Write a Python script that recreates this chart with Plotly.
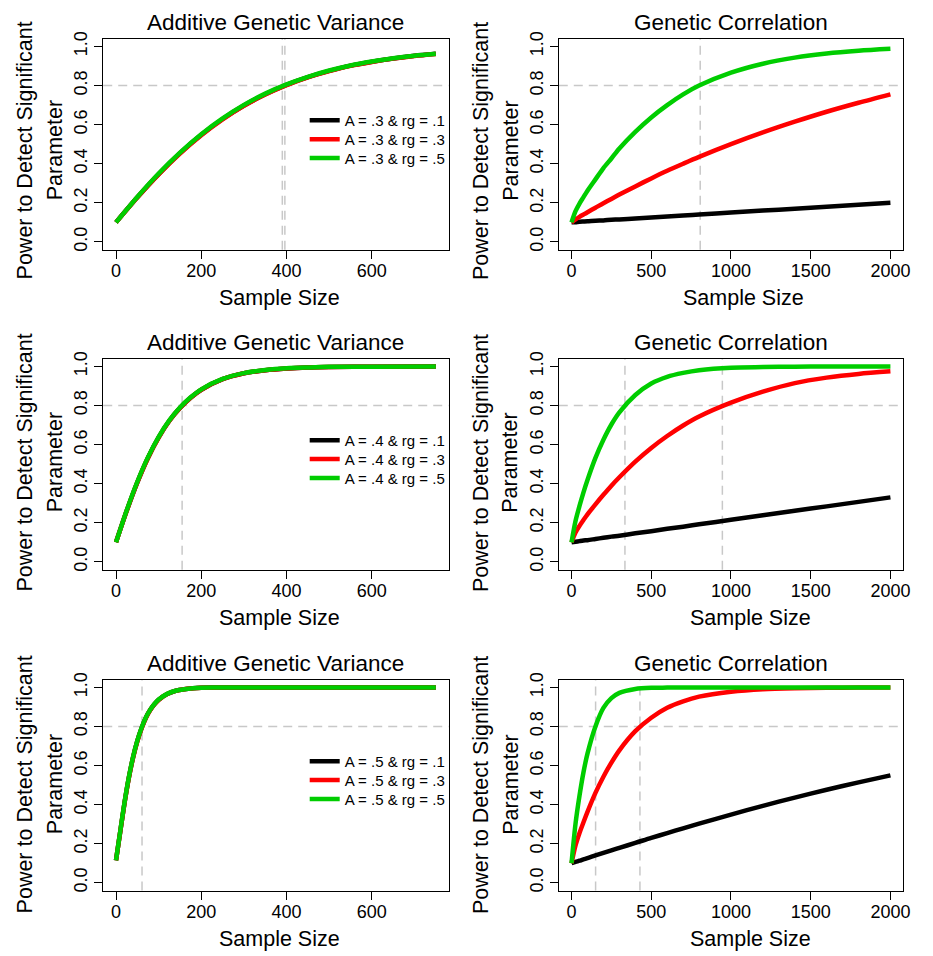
import plotly.graph_objects as go

# ---------------- data ----------------
# Additive genetic variance panels (x: sample size 0..750)
va3_x = [0, 50, 100, 150, 200, 250, 300, 350, 400, 450, 500, 550, 600, 650, 700, 750]
va3_rg1 = [0.100, 0.228, 0.347, 0.454, 0.548, 0.629, 0.698, 0.756, 0.804, 0.843, 0.875, 0.902, 0.922, 0.939, 0.953, 0.963]
va3_rg3 = [0.100, 0.227, 0.345, 0.452, 0.546, 0.627, 0.696, 0.754, 0.802, 0.842, 0.874, 0.901, 0.921, 0.938, 0.952, 0.962]
va3_rg5 = [0.100, 0.230, 0.350, 0.457, 0.551, 0.632, 0.701, 0.759, 0.806, 0.845, 0.877, 0.903, 0.923, 0.940, 0.953, 0.963]

va4_x = [0, 25, 50, 75, 100, 125, 150, 175, 200, 250, 300, 350, 400, 450, 500, 600, 750]
va4_rg1 = [0.100, 0.261, 0.407, 0.533, 0.637, 0.722, 0.788, 0.840, 0.881, 0.935, 0.965, 0.981, 0.990, 0.995, 0.997, 0.999, 1.000]
va4_rg3 = [0.100, 0.260, 0.406, 0.532, 0.636, 0.721, 0.787, 0.840, 0.881, 0.935, 0.965, 0.981, 0.990, 0.995, 0.997, 0.999, 1.000]
va4_rg5 = [0.100, 0.263, 0.410, 0.536, 0.640, 0.724, 0.790, 0.842, 0.883, 0.936, 0.966, 0.982, 0.991, 0.995, 0.998, 0.999, 1.000]

va5_x = [0, 10, 20, 30, 40, 50, 60, 70, 80, 90, 100, 120, 140, 160, 180, 200, 250, 300, 400, 500, 600, 750]
va5_rg1 = [0.115, 0.263, 0.410, 0.537, 0.642, 0.726, 0.792, 0.845, 0.884, 0.914, 0.937, 0.966, 0.983, 0.991, 0.996, 0.998, 1.0, 1.0, 1.0, 1.0, 1.0, 1.0]
va5_rg3 = [0.115, 0.262, 0.408, 0.535, 0.640, 0.724, 0.790, 0.843, 0.883, 0.913, 0.936, 0.966, 0.982, 0.991, 0.995, 0.998, 1.0, 1.0, 1.0, 1.0, 1.0, 1.0]
va5_rg5 = [0.115, 0.265, 0.412, 0.539, 0.644, 0.728, 0.794, 0.846, 0.885, 0.915, 0.938, 0.967, 0.983, 0.991, 0.996, 0.998, 1.0, 1.0, 1.0, 1.0, 1.0, 1.0]

# Genetic correlation panels (x: sample size 0..2000)
rg_x = [0, 25, 50, 75, 100, 150, 200, 250, 300, 400, 500, 600, 700, 800, 1000, 1200, 1400, 1600, 1800, 2000]
rg3_rg1 = [0.100, 0.101, 0.103, 0.104, 0.105, 0.108, 0.110, 0.113, 0.115, 0.120, 0.125, 0.130, 0.135, 0.140, 0.150, 0.160, 0.170, 0.180, 0.190, 0.200]
rg3_rg3 = [0.100, 0.115, 0.128, 0.140, 0.152, 0.175, 0.198, 0.220, 0.242, 0.284, 0.325, 0.364, 0.400, 0.435, 0.500, 0.560, 0.615, 0.666, 0.712, 0.755]
rg3_rg5 = [0.100, 0.157, 0.196, 0.229, 0.262, 0.320, 0.378, 0.427, 0.478, 0.563, 0.637, 0.700, 0.755, 0.800, 0.866, 0.912, 0.943, 0.964, 0.978, 0.988]

rg4_rg1 = [0.100, 0.103, 0.106, 0.109, 0.111, 0.117, 0.123, 0.129, 0.134, 0.146, 0.157, 0.169, 0.180, 0.192, 0.215, 0.238, 0.261, 0.284, 0.307, 0.330]
rg4_rg3 = [0.100, 0.150, 0.184, 0.214, 0.243, 0.294, 0.343, 0.390, 0.433, 0.513, 0.583, 0.644, 0.698, 0.744, 0.815, 0.871, 0.915, 0.943, 0.962, 0.975]
rg4_rg5 = [0.100, 0.209, 0.286, 0.356, 0.419, 0.532, 0.625, 0.703, 0.765, 0.854, 0.913, 0.947, 0.967, 0.981, 0.994, 0.997, 0.999, 1.000, 1.000, 1.000]

rg5_rg1 = [0.100, 0.107, 0.113, 0.120, 0.126, 0.140, 0.153, 0.166, 0.179, 0.204, 0.230, 0.254, 0.279, 0.303, 0.349, 0.394, 0.436, 0.476, 0.514, 0.550]
rg5_rg3 = [0.100, 0.191, 0.255, 0.310, 0.363, 0.460, 0.543, 0.615, 0.678, 0.776, 0.845, 0.896, 0.929, 0.953, 0.978, 0.991, 0.996, 0.998, 0.999, 1.000]
rg5_rg5 = [0.100, 0.302, 0.446, 0.566, 0.661, 0.800, 0.895, 0.945, 0.972, 0.992, 0.998, 0.999, 1.000, 1.000, 1.000, 1.000, 1.000, 1.000, 1.000, 1.000]

# reference lines (sample size reaching 80% power)
power_target = 0.8
vlines = {1: [390, 396], 2: [807], 3: [155], 4: [335, 946], 5: [61], 6: [151, 429]}

legend_labels = {
    1: ["A = .3 & rg = .1", "A = .3 & rg = .3", "A = .3 & rg = .5"],
    3: ["A = .4 & rg = .1", "A = .4 & rg = .3", "A = .4 & rg = .5"],
    5: ["A = .5 & rg = .1", "A = .5 & rg = .3", "A = .5 & rg = .5"],
}

xticks_va = [0, 200, 400, 600]
xticks_rg = [0, 500, 1000, 1500, 2000]
yticks = [0.0, 0.2, 0.4, 0.6, 0.8, 1.0]
yticklabels = ["0.0", "0.2", "0.4", "0.6", "0.8", "1.0"]

titles = {1: "Additive Genetic Variance", 2: "Genetic Correlation",
          3: "Additive Genetic Variance", 4: "Genetic Correlation",
          5: "Additive Genetic Variance", 6: "Genetic Correlation"}
xlabel = "Sample Size"
ylabel1 = "Power to Detect Significant"
ylabel2 = "Parameter"

series = {
    1: (va3_x, [va3_rg1, va3_rg3, va3_rg5]),
    2: (rg_x, [rg3_rg1, rg3_rg3, rg3_rg5]),
    3: (va4_x, [va4_rg1, va4_rg3, va4_rg5]),
    4: (rg_x, [rg4_rg1, rg4_rg3, rg4_rg5]),
    5: (va5_x, [va5_rg1, va5_rg3, va5_rg5]),
    6: (rg_x, [rg5_rg1, rg5_rg3, rg5_rg5]),
}
colors = ["#000000", "#FF0000", "#00CD00"]

# ---------------- layout geometry (pixels) ----------------
W, H = 933, 956
FONT = "Liberation Sans, Arial, Helvetica, sans-serif"
boxes = {1: (104, 452, 32, 245), 2: (563, 910, 32, 245),
         3: (104, 452, 355, 568), 4: (563, 910, 355, 568),
         5: (104, 452, 679, 892), 6: (563, 910, 679, 892)}
xlab_cx = {1: 282, 2: 749, 3: 282, 4: 756, 5: 282, 6: 756}
ylab_cy = {1: 145, 2: 145, 3: 460, 4: 460, 5: 785, 6: 785}
legend_row_offsets = [66, 85, 104]


def fx(p):
    return p / W


def fy(p):
    return 1 - p / H


fig = go.Figure()
layout = dict(
    width=W, height=H,
    margin=dict(l=0, r=0, t=0, b=0),
    paper_bgcolor="white", plot_bgcolor="white",
    showlegend=True,
    font=dict(family=FONT, color="black"),
)
shapes = []
annotations = []

legend_count = 0
for i in range(1, 7):
    xs, ys_list = series[i]
    xname = "x" if i == 1 else f"x{i}"
    yname = "y" if i == 1 else f"y{i}"
    x0, x1, y0, y1 = boxes[i]
    for k, ys in enumerate(ys_list):
        tr = dict(
            x=xs, y=ys, mode="lines",
            line=dict(color=colors[k], width=4.5, shape="spline", smoothing=0.8),
            xaxis=xname, yaxis=yname, hoverinfo="skip",
        )
        if i in legend_labels:
            legend_count += 1
            lname = "legend" if legend_count == 1 else f"legend{legend_count}"
            tr["name"] = legend_labels[i][k]
            tr["legend"] = lname
            tr["showlegend"] = True
            layout[lname] = dict(
                x=fx(307), y=fy(y0 + legend_row_offsets[k]),
                xanchor="left", yanchor="top",
                bgcolor="rgba(0,0,0,0)", borderwidth=0,
                font=dict(family=FONT, size=15, color="black"),
                itemwidth=30,
            )
        else:
            tr["showlegend"] = False
        fig.add_trace(go.Scatter(**tr))

    left_col = i % 2 == 1
    xr = [-30, 780] if left_col else [-80, 2080]
    axis_common = dict(
        showline=True, linecolor="black", linewidth=1, mirror=True,
        showgrid=False, zeroline=False,
        ticks="outside", ticklen=8, tickwidth=1, tickcolor="black",
        tickfont=dict(family=FONT, size=18, color="black"),
    )
    layout["xaxis" if i == 1 else f"xaxis{i}"] = dict(
        domain=[fx(x0), fx(x1)], range=xr, anchor=yname,
        tickvals=xticks_va if left_col else xticks_rg,
        ticklabelstandoff=-3,
        **axis_common,
    )
    layout["yaxis" if i == 1 else f"yaxis{i}"] = dict(
        domain=[fy(y1), fy(y0)], range=[-0.04, 1.04], anchor=xname,
        tickvals=yticks, ticktext=yticklabels, tickangle=-90,
        **axis_common,
    )

    dash_line = dict(color="#C8C8C8", width=1.5, dash="9px,6px")
    shapes.append(dict(type="line", layer="below",
                       xref=f"{xname} domain", x0=0, x1=1,
                       yref=yname, y0=power_target, y1=power_target,
                       line=dash_line))
    for v in vlines[i]:
        shapes.append(dict(type="line", layer="below",
                           xref=xname, x0=v, x1=v,
                           yref=f"{yname} domain", y0=0, y1=1,
                           line=dash_line))

    # panel title
    annotations.append(dict(text=titles[i], xref="paper", yref="paper",
                            x=fx((x0 + x1) / 2), y=fy(y0 - 16),
                            xanchor="center", yanchor="middle", showarrow=False,
                            font=dict(family=FONT, size=22.5, color="black")))
    # x label
    annotations.append(dict(text=xlabel, xref="paper", yref="paper",
                            x=fx(xlab_cx[i]), y=fy(y1 + 49),
                            xanchor="center", yanchor="middle", showarrow=False,
                            font=dict(family=FONT, size=21.5, color="black")))
    # y label (two lines)
    annotations.append(dict(text=ylabel1, xref="paper", yref="paper",
                            x=fx(x0 - 79), y=fy(ylab_cy[i]),
                            xanchor="center", yanchor="middle", showarrow=False,
                            textangle=-90,
                            font=dict(family=FONT, size=21.5, color="black")))
    annotations.append(dict(text=ylabel2, xref="paper", yref="paper",
                            x=fx(x0 - 49), y=fy(ylab_cy[i]),
                            xanchor="center", yanchor="middle", showarrow=False,
                            textangle=-90,
                            font=dict(family=FONT, size=21.5, color="black")))

layout["shapes"] = shapes
layout["annotations"] = annotations
fig.update_layout(**layout)

fig.write_html("out.html", config={"displayModeBar": False},
               post_script="document.body.style.margin='0px';")
